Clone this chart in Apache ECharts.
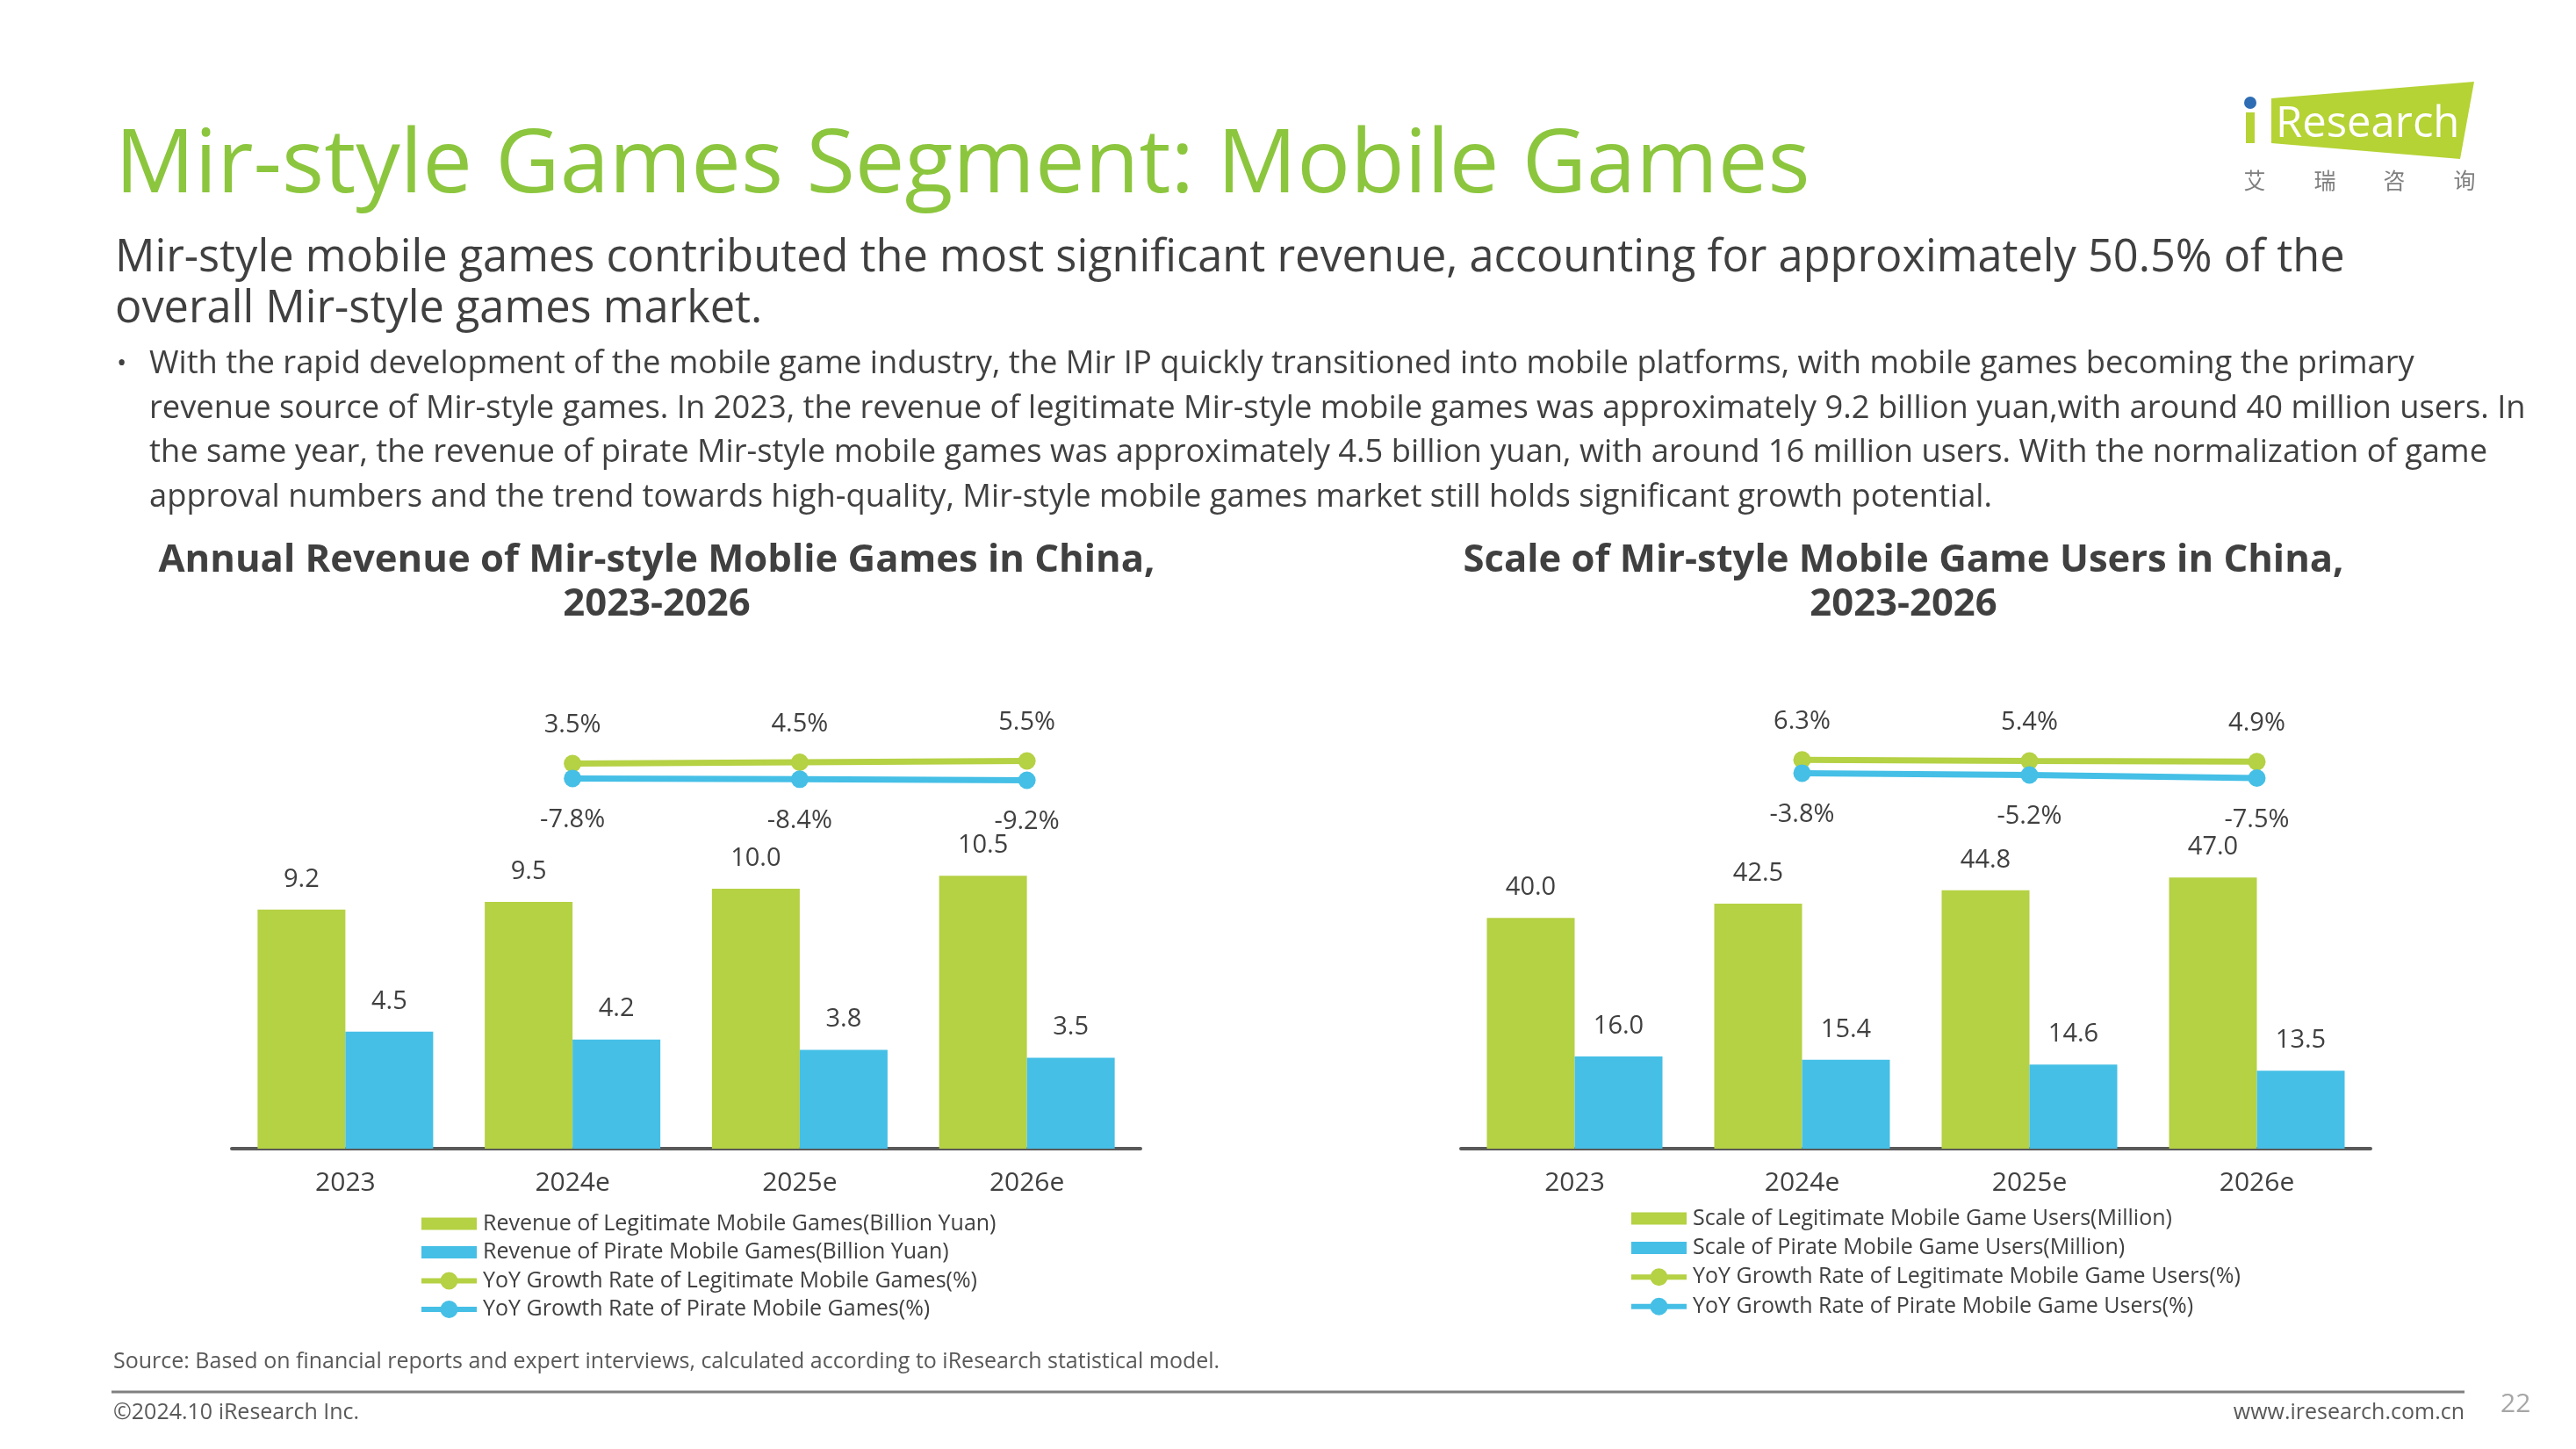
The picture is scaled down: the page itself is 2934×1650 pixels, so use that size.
<!DOCTYPE html>
<html>
<head>
<meta charset="utf-8">
<script src="https://cdn.jsdelivr.net/npm/echarts@6/dist/echarts.min.js"></script>
<style>
  html, body { margin: 0; padding: 0; background: #fff; }
  #chart { width: 2934px; height: 1650px; }
</style>
</head>
<body>
<div id="chart"></div>
<script>
// ---- data ----
var years = ['2023', '2024e', '2025e', '2026e'];

var revenueLegit = [9.2, 9.5, 10.0, 10.5];
var revenuePirate = [4.5, 4.2, 3.8, 3.5];
var revenueLegitYoY = [null, 3.5, 4.5, 5.5];
var revenuePirateYoY = [null, -7.8, -8.4, -9.2];

var usersLegit = [40.0, 42.5, 44.8, 47.0];
var usersPirate = [16.0, 15.4, 14.6, 13.5];
var usersLegitYoY = [null, 6.3, 5.4, 4.9];
var usersPirateYoY = [null, -3.8, -5.2, -7.5];

var revenueNames = [
  'Revenue of Legitimate Mobile Games(Billion Yuan)',
  'Revenue of Pirate Mobile Games(Billion Yuan)',
  'YoY Growth Rate of Legitimate Mobile Games(%)',
  'YoY Growth Rate of Pirate Mobile Games(%)'
];
var userNames = [
  'Scale of Legitimate Mobile Game Users(Million)',
  'Scale of Pirate Mobile Game Users(Million)',
  'YoY Growth Rate of Legitimate Mobile Game Users(%)',
  'YoY Growth Rate of Pirate Mobile Game Users(%)'
];

var pageTitle = 'Mir-style Games Segment: Mobile Games';
var subtitleLines = [
  'Mir-style mobile games contributed the most significant revenue, accounting for approximately 50.5% of the',
  'overall Mir-style games market.'
];
var bulletLines = [
  'With the rapid development of the mobile game industry, the Mir IP quickly transitioned into mobile platforms, with mobile games becoming the primary',
  'revenue source of Mir-style games. In 2023, the revenue of legitimate Mir-style mobile games was approximately 9.2 billion yuan,with around 40 million users. In',
  'the same year, the revenue of pirate Mir-style mobile games was approximately 4.5 billion yuan, with around 16 million users. With the normalization of game',
  'approval numbers and the trend towards high-quality, Mir-style mobile games market still holds significant growth potential.'
];
var leftTitle = 'Annual Revenue of Mir-style Moblie Games in China,\n2023-2026';
var rightTitle = 'Scale of Mir-style Mobile Game Users in China,\n2023-2026';
var sourceText = 'Source: Based on financial reports and expert interviews, calculated according to iResearch statistical model.';

// ---- style ----
var FONT = "'Open Sans', 'Noto Sans', sans-serif";
var GREEN = '#b5d144';
var BLUE = '#45bfe6';
var TEXT = '#404040';
var RECT_ICON = 'path://M0,0h63v14h-63z';
// line + dot legend marker (segments kept apart from the dot so nothing cancels out)
var LINE_ICON = 'path://M0,9h23v6h-23z M40,9h23v6h-23z M21.5,12a10,10 0 1,1 20,0a10,10 0 1,1 -20,0z';

var myChart = echarts.init(document.getElementById('chart'), null, { renderer: 'canvas' });

function barSeries(name, data, color, xi, yi) {
  return {
    name: name, type: 'bar', xAxisIndex: xi, yAxisIndex: yi,
    data: data, barWidth: 100, barGap: '0%',
    itemStyle: { color: color },
    label: {
      show: true, position: 'top', distance: 20,
      fontFamily: FONT, fontSize: 29, color: TEXT,
      formatter: function (p) { return p.value.toFixed(1); }
    },
    silent: true
  };
}

function lineSeries(name, data, color, xi, yi, pos, dist) {
  return {
    name: name, type: 'line', xAxisIndex: xi, yAxisIndex: yi,
    data: data, symbol: 'circle', symbolSize: 20,
    lineStyle: { color: color, width: 7 },
    itemStyle: { color: color },
    label: {
      show: true, position: pos, distance: dist,
      fontFamily: FONT, fontSize: 29, color: TEXT,
      formatter: function (p) { return p.value.toFixed(1) + '%'; }
    },
    z: 5,
    silent: true
  };
}

function xAxisFor(gi) {
  return {
    type: 'category', gridIndex: gi, data: years,
    axisLine: { onZero: false, lineStyle: { color: '#595959', width: 4 } },
    axisTick: { show: false },
    axisLabel: { fontFamily: FONT, fontSize: 30, color: TEXT, margin: 24 }
  };
}

function legendFor(names, left, top, gap) {
  return {
    orient: 'vertical', left: left, top: top,
    itemWidth: 63, itemHeight: 24, itemGap: gap,
    selectedMode: false,
    itemStyle: { borderWidth: 0 },
    textStyle: { fontFamily: FONT, fontSize: 25, color: TEXT, lineHeight: 24, padding: [0, 0, 0, 2] },
    data: [
      { name: names[0], icon: RECT_ICON },
      { name: names[1], icon: RECT_ICON },
      { name: names[2], icon: LINE_ICON },
      { name: names[3], icon: LINE_ICON }
    ]
  };
}

function txt(x, y, text, size, color, extra) {
  var style = {
    x: x, y: y, text: text, fill: color,
    font: size + 'px ' + FONT,
    align: (extra && extra.align) || 'left',
    verticalAlign: 'middle'
  };
  if (extra && extra.font) style.font = extra.font;
  return { type: 'text', silent: true, style: style };
}

var graphics = [
  txt(131, 190, pageTitle, 101, '#8cc63e'),
  txt(131, 295, subtitleLines[0], 50.5, TEXT),
  txt(131, 353, subtitleLines[1], 50.5, TEXT),
  txt(133, 414, '\u2022', 30, TEXT),
  {
    type: 'text', silent: true,
    style: {
      x: 170, y: 415 - 25.25, text: bulletLines.join('\n'), fill: TEXT,
      font: '36.3px ' + FONT, lineHeight: 50.5, verticalAlign: 'top'
    }
  },
  {
    type: 'text', silent: true,
    style: {
      x: 748, y: 614, text: leftTitle, fill: TEXT,
      font: 'bold 43.6px ' + FONT, lineHeight: 50, align: 'center', verticalAlign: 'top'
    }
  },
  {
    type: 'text', silent: true,
    style: {
      x: 2168, y: 614, text: rightTitle, fill: TEXT,
      font: 'bold 43.6px ' + FONT, lineHeight: 50, align: 'center', verticalAlign: 'top'
    }
  },
  txt(129, 1551, sourceText, 25, '#595959'),
  {
    type: 'line', silent: true,
    shape: { x1: 127, y1: 1585, x2: 2807, y2: 1585 },
    style: { stroke: '#808080', lineWidth: 3 }
  },
  txt(129, 1609, '\u00a92024.10 iResearch Inc.', 25, '#595959'),
  txt(2807, 1609, 'www.iresearch.com.cn', 25, '#595959', { align: 'right' }),
  txt(2848, 1599, '22', 30, '#a6a6a6'),
  // logo
  {
    type: 'polygon', silent: true,
    shape: { points: [[2587, 112], [2818, 93], [2802, 181], [2587, 163]] },
    style: { fill: '#b5d334' }
  },
  {
    type: 'rect', silent: true,
    shape: { x: 2558, y: 128, width: 10, height: 35 },
    style: { fill: '#b5d334' }
  },
  {
    type: 'circle', silent: true,
    shape: { cx: 2563, cy: 117, r: 7 },
    style: { fill: '#2e6db4' }
  },
  txt(2592, 142, 'Research', 49, '#ffffff'),
  txt(2568, 205, '\u827e', 25, '#7f7f7f', { align: 'center', font: "25px 'Noto Sans CJK SC'" }),
  txt(2648, 205, '\u745e', 25, '#7f7f7f', { align: 'center', font: "25px 'Noto Sans CJK SC'" }),
  txt(2727, 205, '\u54a8', 25, '#7f7f7f', { align: 'center', font: "25px 'Noto Sans CJK SC'" }),
  txt(2807, 205, '\u8be2', 25, '#7f7f7f', { align: 'center', font: "25px 'Noto Sans CJK SC'" })
];

var option = {
  backgroundColor: '#ffffff',
  animation: false,
  grid: [
    { left: 264, top: 805, width: 1035, height: 503 },
    { left: 1664, top: 805, width: 1036, height: 503 }
  ],
  xAxis: [xAxisFor(0), xAxisFor(1)],
  yAxis: [
    { type: 'value', gridIndex: 0, min: 0, max: 17, show: false },
    { type: 'value', gridIndex: 0, min: -289, max: 46.5, show: false },
    { type: 'value', gridIndex: 1, min: 0, max: 76.6, show: false },
    { type: 'value', gridIndex: 1, min: -289, max: 46.5, show: false }
  ],
  legend: [
    legendFor(revenueNames, 475, 1376, 7.5),
    legendFor(userNames, 1853, 1370, 8.4)
  ],
  series: [
    barSeries(revenueNames[0], revenueLegit, GREEN, 0, 0),
    barSeries(revenueNames[1], revenuePirate, BLUE, 0, 0),
    lineSeries(revenueNames[2], revenueLegitYoY, GREEN, 0, 1, 'top', 19),
    lineSeries(revenueNames[3], revenuePirateYoY, BLUE, 0, 1, 'bottom', 23),
    barSeries(userNames[0], usersLegit, GREEN, 1, 2),
    barSeries(userNames[1], usersPirate, BLUE, 1, 2),
    lineSeries(userNames[2], usersLegitYoY, GREEN, 1, 3, 'top', 19),
    lineSeries(userNames[3], usersPirateYoY, BLUE, 1, 3, 'bottom', 23)
  ],
  graphic: graphics
};

myChart.setOption(option);
</script>
</body>
</html>
